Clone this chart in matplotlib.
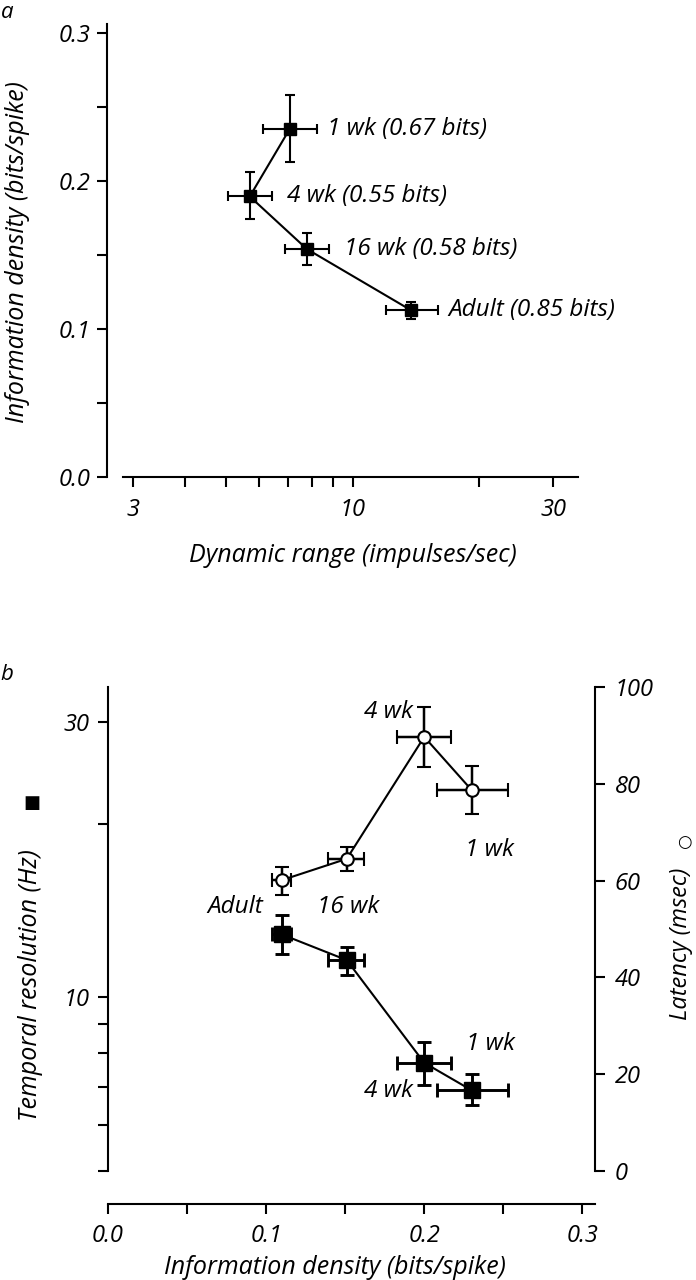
import matplotlib
matplotlib.use("Agg")
import matplotlib.pyplot as plt
from matplotlib.ticker import FixedLocator, FixedFormatter, NullFormatter

plt.rcParams["font.family"] = ["Open Sans", "DejaVu Sans"]
plt.rcParams["font.style"] = "italic"

# --- panel a: dynamic range vs information density ---------------------------
labels_a = ["1 wk (0.67 bits)", "4 wk (0.55 bits)", "16 wk (0.58 bits)", "Adult (0.85 bits)"]
range_a = [7.08, 5.69, 7.78, 13.8]
range_lo = [6.11, 5.05, 6.89, 11.98]
range_hi = [8.21, 6.42, 8.77, 16.0]
dens_a = [0.235, 0.1895, 0.154, 0.1125]
dens_lo = [0.213, 0.174, 0.143, 0.107]
dens_hi = [0.258, 0.206, 0.165, 0.118]

# --- panel b: information density vs temporal resolution / latency ------------
ages_b = ["Adult", "16 wk", "4 wk", "1 wk"]
dens_b = [0.110, 0.151, 0.200, 0.230]
dens_b_lo = [0.104, 0.139, 0.183, 0.208]
dens_b_hi = [0.116, 0.162, 0.217, 0.253]
temp_res = [12.85, 11.6, 7.7, 6.9]
temp_lo = [11.9, 10.95, 7.05, 6.5]
temp_hi = [13.9, 12.2, 8.35, 7.35]
latency = [60.1, 64.5, 89.7, 78.7]
lat_lo = [57.0, 62.0, 83.5, 73.8]
lat_hi = [62.8, 66.9, 95.9, 83.7]

W, H = 696, 1280
PT = 72 / 100  # points per pixel at dpi 100
LW = 1.5
TICK_FS = 17
ANN_FS = 17.5
LAB_FS = 18


def err(v, lo, hi):
    return [[a - b for a, b in zip(v, lo)], [c - a for a, c in zip(v, hi)]]


def px_axes(fig, l, t, r, b):
    return fig.add_axes([l / W, 1 - b / H, (r - l) / W, (b - t) / H])


def style(ax):
    for s in ax.spines.values():
        s.set_linewidth(LW)
    ax.tick_params(which="both", direction="out", length=10 * PT, width=LW,
                   labelsize=TICK_FS)


fig = plt.figure(figsize=(W / 100, H / 100), dpi=100)

# ----------------------------- panel a ---------------------------------------
ax1 = px_axes(fig, 123, 24, 578, 477)
ax1.set_xscale("log")
ax1.set_xlim(2.84, 34.4)
ax1.set_ylim(0, 0.306)
for s in ("top", "right"):
    ax1.spines[s].set_visible(False)
ax1.spines["left"].set_position(("outward", 16 * PT))
style(ax1)
ax1.xaxis.set_major_locator(FixedLocator([3, 10, 30]))
ax1.xaxis.set_major_formatter(FixedFormatter(["3", "10", "30"]))
ax1.xaxis.set_minor_locator(FixedLocator([4, 5, 6, 7, 8, 9, 20]))
ax1.xaxis.set_minor_formatter(NullFormatter())
ax1.yaxis.set_major_locator(FixedLocator([0, 0.1, 0.2, 0.3]))
ax1.yaxis.set_major_formatter(FixedFormatter(["0.0", "0.1", "0.2", "0.3"]))
ax1.yaxis.set_minor_locator(FixedLocator([0.05, 0.15, 0.25]))
ax1.tick_params(axis="x", pad=8)
ax1.tick_params(axis="y", pad=5)

ax1.errorbar(range_a, dens_a, xerr=err(range_a, range_lo, range_hi),
             yerr=err(dens_a, dens_lo, dens_hi), color="black", lw=LW,
             elinewidth=LW, capsize=3.8, capthick=LW, marker="s", ms=8.5,
             mfc="black", mec="black")
for x, y, t in zip(range_a, dens_a, labels_a):
    ax1.annotate(t, (x, y), xytext=(37 * PT, 0), textcoords="offset points",
                 ha="left", va="center", fontsize=ANN_FS)

fig.text(353 / W, 1 - 555 / H, "Dynamic range (impulses/sec)", ha="center",
         va="center", fontsize=LAB_FS)
fig.text(18 / W, 1 - 252 / H, "Information density (bits/spike)", ha="center",
         va="center", rotation=90, fontsize=LAB_FS)
fig.text(7 / W, 1 - 12 / H, "a", ha="center", va="center", fontsize=16)

# ----------------------------- panel b ---------------------------------------
ax2 = px_axes(fig, 108, 687, 595, 1171)
ax2.set_yscale("log")
ax2.set_xlim(0, 0.308)
ax2.set_ylim(5, 34.5)
ax2.spines["top"].set_visible(False)
ax2.spines["right"].set_visible(False)
ax2.spines["bottom"].set_position(("outward", 33 * PT))
style(ax2)
ax2.xaxis.set_major_locator(FixedLocator([0, 0.1, 0.2, 0.3]))
ax2.xaxis.set_major_formatter(FixedFormatter(["0.0", "0.1", "0.2", "0.3"]))
ax2.xaxis.set_minor_locator(FixedLocator([0.05, 0.15, 0.25]))
ax2.yaxis.set_major_locator(FixedLocator([10, 30]))
ax2.yaxis.set_major_formatter(FixedFormatter(["10", "30"]))
ax2.yaxis.set_minor_locator(FixedLocator([5, 6, 7, 8, 9, 20]))
ax2.yaxis.set_minor_formatter(NullFormatter())
ax2.tick_params(axis="x", pad=7)
ax2.tick_params(axis="y", pad=6)

ax3 = ax2.twinx()
ax3.set_ylim(0, 100)
for s in ("top", "left", "bottom"):
    ax3.spines[s].set_visible(False)
style(ax3)
ax3.yaxis.set_major_locator(FixedLocator([0, 20, 40, 60, 80, 100]))
ax3.tick_params(axis="y", pad=7)

ax2.errorbar(dens_b, temp_res, xerr=err(dens_b, dens_b_lo, dens_b_hi),
             yerr=err(temp_res, temp_lo, temp_hi), color="black", lw=LW,
             elinewidth=LW * 1.4, capsize=4.8, capthick=LW * 1.4, marker="s",
             ms=11, mfc="black", mec="black", zorder=3)
ax3.errorbar(dens_b, latency, xerr=err(dens_b, dens_b_lo, dens_b_hi),
             yerr=err(latency, lat_lo, lat_hi), color="black", lw=LW,
             elinewidth=LW * 1.2, capsize=4.8, capthick=LW * 1.2, marker="o",
             ms=9, mfc="white", mec="black", mew=LW, zorder=3)

# age labels, offsets (px) from the plotted points
circ_off = {"4 wk": (-11, 25, "right"), "1 wk": (18, -60, "center"),
            "Adult": (-47, -27, "center"), "16 wk": (1, -48, "center")}
for x, y, t in zip(dens_b, latency, ages_b):
    dx, dy, ha = circ_off[t]
    ax3.annotate(t, (x, y), xytext=(dx * PT, dy * PT), textcoords="offset points",
                 ha=ha, va="center", fontsize=ANN_FS)
sq_off = {"4 wk": (-11, -28, "right"), "1 wk": (19, 46, "center")}
for x, y, t in zip(dens_b, temp_res, ages_b):
    if t in sq_off:
        dx, dy, ha = sq_off[t]
        ax2.annotate(t, (x, y), xytext=(dx * PT, dy * PT),
                     textcoords="offset points", ha=ha, va="center",
                     fontsize=ANN_FS)

fig.text(335 / W, 1 - 1268 / H, "Information density (bits/spike)", ha="center",
         va="center", fontsize=LAB_FS)
fig.text(31 / W, 1 - 985 / H, "Temporal resolution (Hz)", ha="center",
         va="center", rotation=90, fontsize=LAB_FS)
fig.text(32 / W, 1 - 803 / H, "\u25a0", ha="center", va="center",
         fontsize=13, family="DejaVu Sans")
fig.text(681 / W, 1 - 944 / H, "Latency (msec)", ha="center",
         va="center", rotation=90, fontsize=17)
fig.text(684 / W, 1 - 842 / H, "\u25cb", ha="center", va="center",
         fontsize=12, family="DejaVu Sans", fontweight="bold")
fig.text(7 / W, 1 - 675 / H, "b", ha="center", va="center", fontsize=16)

fig.savefig("out.png", dpi=100)
